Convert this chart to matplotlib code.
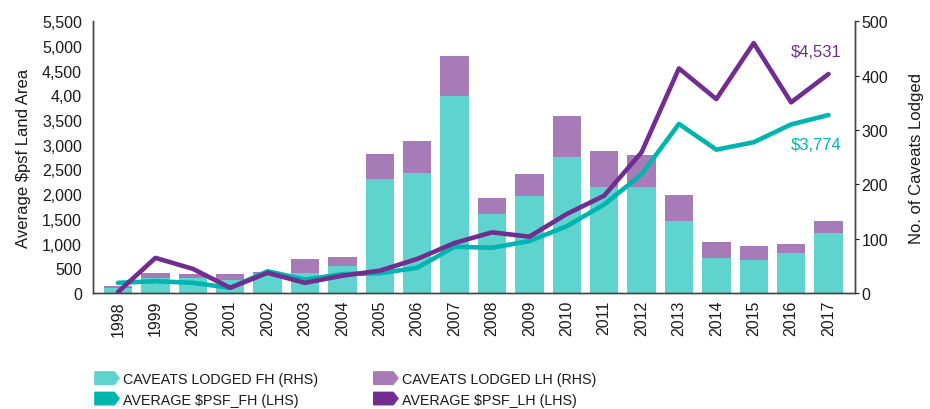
import matplotlib
matplotlib.use("Agg")
import matplotlib.pyplot as plt
from matplotlib.patches import Polygon, Patch
from matplotlib.legend_handler import HandlerPatch
import numpy as np

plt.rcParams['font.family'] = ['Liberation Sans', 'DejaVu Sans']

years = [str(y) for y in range(1998, 2018)]
caveats_fh = [9, 28, 27, 24, 35, 37, 49, 210, 221, 363, 145, 179, 251, 195, 195, 133, 65, 61, 74, 111]
caveats_lh = [3, 9, 8, 11, 4, 26, 18, 46, 59, 73, 30, 40, 75, 66, 58, 47, 29, 26, 16, 22]
psf_fh = [205, 238, 205, 105, 440, 270, 380, 400, 510, 935, 915, 1050, 1350, 1790, 2400, 3420, 2900, 3050, 3410, 3600]
psf_lh = [20, 710, 488, 105, 407, 205, 350, 451, 688, 1011, 1227, 1139, 1598, 1968, 2845, 4544, 3923, 5056, 3857, 4430]

left_ticks = [0, 500, 1000, 1500, 2000, 2500, 3000, 3500, 4000, 4500, 5000, 5500]
left_labels = ['0', '500', '1,000', '1,500', '2,000', '2,500', '3,000', '3,500', '4,00', '4,500', '5,000', '5,500']
right_ticks = [0, 100, 200, 300, 400, 500]

c_bar_fh = '#5fd3ce'
c_bar_lh = '#a67bb8'
c_line_fh = '#00b5b0'
c_line_lh = '#722d91'
txt = '#1a1a1a'

fig = plt.figure(figsize=(9.3, 4.1), dpi=100)
ax = fig.add_axes([0.1, 0.283, 0.819, 0.663])
ax2 = ax.twinx()

x = np.arange(len(years))
# bars on the right-hand axis
ax2.bar(x, caveats_fh, width=0.76, color=c_bar_fh, zorder=1)
ax2.bar(x, caveats_lh, width=0.76, bottom=caveats_fh, color=c_bar_lh, zorder=1)
ax2.set_ylim(0, 500)
ax2.set_yticks(right_ticks)
ax2.set_ylabel('No. of Caveats Lodged', fontsize=12, color=txt, labelpad=15)
ax2.tick_params(axis='y', labelsize=11.5, colors=txt, length=3, pad=2)

# lines on the left-hand axis, drawn above the bars
ax.set_zorder(ax2.get_zorder() + 1)
ax.patch.set_visible(False)
ax.plot(x, psf_fh, color=c_line_fh, lw=3.3, solid_capstyle='round', solid_joinstyle='round')
ax.plot(x, psf_lh, color=c_line_lh, lw=3.3, solid_capstyle='round', solid_joinstyle='round')
ax.set_ylim(0, 5500)
ax.set_yticks(left_ticks)
ax.set_yticklabels(left_labels)
ax.set_ylabel('Average $psf Land Area', fontsize=12, color=txt, labelpad=8)
ax.tick_params(axis='y', labelsize=11.5, colors=txt, length=0, pad=8)
ax.set_xlim(-0.67, 19.7)
ax.set_xticks(x)
ax.set_xticklabels(years, rotation=90)
ax.tick_params(axis='x', labelsize=11.5, colors=txt, length=0, pad=5)

for a in (ax, ax2):
    a.spines['top'].set_visible(False)
    for s in ('left', 'right', 'bottom'):
        a.spines[s].set_color('#444444')
        a.spines[s].set_linewidth(1)

ax.text(19.35, 4880, '$4,531', color=c_line_lh, fontsize=12, ha='right', va='center')
ax.text(19.35, 3000, '$3,774', color=c_line_fh, fontsize=12, ha='right', va='center')


def arrow_patch(legend, orig_handle, xdescent, ydescent, width, height, fontsize):
    w, h = width, height * 1.05
    y0 = -ydescent - 0.02 * height
    pts = [(-xdescent, y0), (-xdescent + w * 0.8, y0), (-xdescent + w, y0 + h / 2),
           (-xdescent + w * 0.8, y0 + h), (-xdescent, y0 + h)]
    return Polygon(pts, closed=True)


handles = [Patch(color=c_bar_fh, label='CAVEATS LODGED FH (RHS)'),
           Patch(color=c_line_fh, label='AVERAGE $PSF_FH (LHS)'),
           Patch(color=c_bar_lh, label='CAVEATS LODGED LH (RHS)'),
           Patch(color=c_line_lh, label='AVERAGE $PSF_LH (LHS)')]
fig.legend(handles=handles, loc='upper left', bbox_to_anchor=(0.102, 0.09), ncol=2,
           frameon=False, fontsize=10.3, handlelength=1.7, handleheight=0.9,
           handletextpad=0.25, columnspacing=3.9, labelspacing=0.45, borderaxespad=0,
           borderpad=0, labelcolor=txt, handler_map={Patch: HandlerPatch(patch_func=arrow_patch)})

fig.savefig('out.png', dpi=100)
